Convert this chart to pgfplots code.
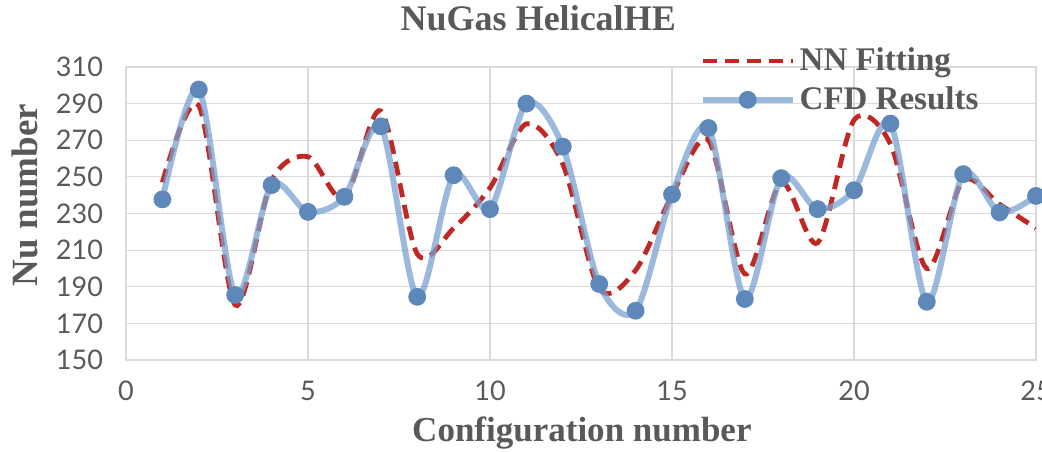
\documentclass[border=0pt]{standalone}
\usepackage{pgfplots}
\pgfplotsset{compat=1.18}
\usepackage{fontspec}
\setmainfont{Liberation Serif}
\newfontfamily\tickfont{Lato}
\definecolor{txt}{RGB}{89,89,89}
\definecolor{gridc}{RGB}{217,217,222}
\definecolor{cfdline}{RGB}{122,162,208}
\definecolor{cfdmark}{RGB}{94,136,186}
\definecolor{nnred}{RGB}{192,40,36}
\begin{document}
\begin{tikzpicture}
\begin{axis}[
  at={(0pt,0pt)}, anchor=south west,
  scale only axis, width=455pt, height=146.5pt,
  xmin=0, xmax=25, ymin=150, ymax=310,
  xtick={0,5,...,25}, ytick={150,170,...,310},
  grid=major, major grid style={draw=gridc, line width=0.6pt},
  axis line style={draw=gridc, line width=0.6pt},
  tick style={draw=none},
  /pgf/number format/assume math mode=true,
  tick label style={font=\tickfont\fontsize{13.5}{13.5}\selectfont, text=txt},
  yticklabel style={anchor=east, xshift=-8pt},
  xticklabel style={anchor=north, yshift=-7pt},
  title={NuGas HelicalHE},
  title style={at={(0.453,1.125)}, anchor=center, font=\bfseries\fontsize{18}{18}\selectfont, text=txt},
  xlabel={Configuration number},
  xlabel style={at={(0.501,-0.249)}, anchor=center, font=\bfseries\fontsize{17.5}{17.5}\selectfont, text=txt},
  ylabel={Nu number},
  ylabel style={at={(-0.111,0.563)}, anchor=center, font=\bfseries\fontsize{18.5}{18.5}\selectfont, text=txt},
  legend style={draw=none, fill=none, at={(0.63,1.08)}, anchor=north west,
    font=\bfseries\fontsize{16.5}{16.5}\selectfont, text=txt, row sep=2.5pt,
    inner sep=0pt, nodes={inner sep=2pt}},
  legend cell align=left,
  legend image code/.code={\draw[#1, mark repeat=2, mark phase=2] plot coordinates {(0pt,0pt) (22.5pt,0pt) (45pt,0pt)};},
]
\addplot[nnred, line width=2.4pt, dash pattern=on 7pt off 4pt, smooth, tension=0.5] coordinates {
(1,247) (2,289) (3,180) (4,248) (5,261) (6,238) (7,286) (8,208) (9,222) (10,244)
(11,279) (12,257) (13,189) (14,199) (15,240) (16,270) (17,197) (18,247) (19,214) (20,281)
(21,268) (22,200) (23,248) (24,235) (25,222)};
\addlegendentry{NN Fitting}
\addplot[cfdline, draw opacity=0.75, line width=3pt, smooth, tension=0.5, mark=*, mark size=4.2pt,
  mark options={solid, draw=cfdmark, fill=cfdmark, draw opacity=1, fill opacity=1, line width=0.5pt}] coordinates {
(1,237.7) (2,297.7) (3,185.5) (4,245.5) (5,230.9) (6,239.1) (7,277.6) (8,184.5) (9,250.9) (10,232.4)
(11,290) (12,266.5) (13,191.5) (14,176.9) (15,240.4) (16,276.7) (17,183.3) (18,249.3) (19,232.4) (20,242.7)
(21,279.1) (22,181.8) (23,251.5) (24,230.6) (25,239.6)};
\addlegendentry{CFD Results}
\end{axis}
\pgfresetboundingbox
\path[use as bounding box] (-63pt,-45.5pt) rectangle (458pt,180pt);
\end{tikzpicture}
\end{document}
